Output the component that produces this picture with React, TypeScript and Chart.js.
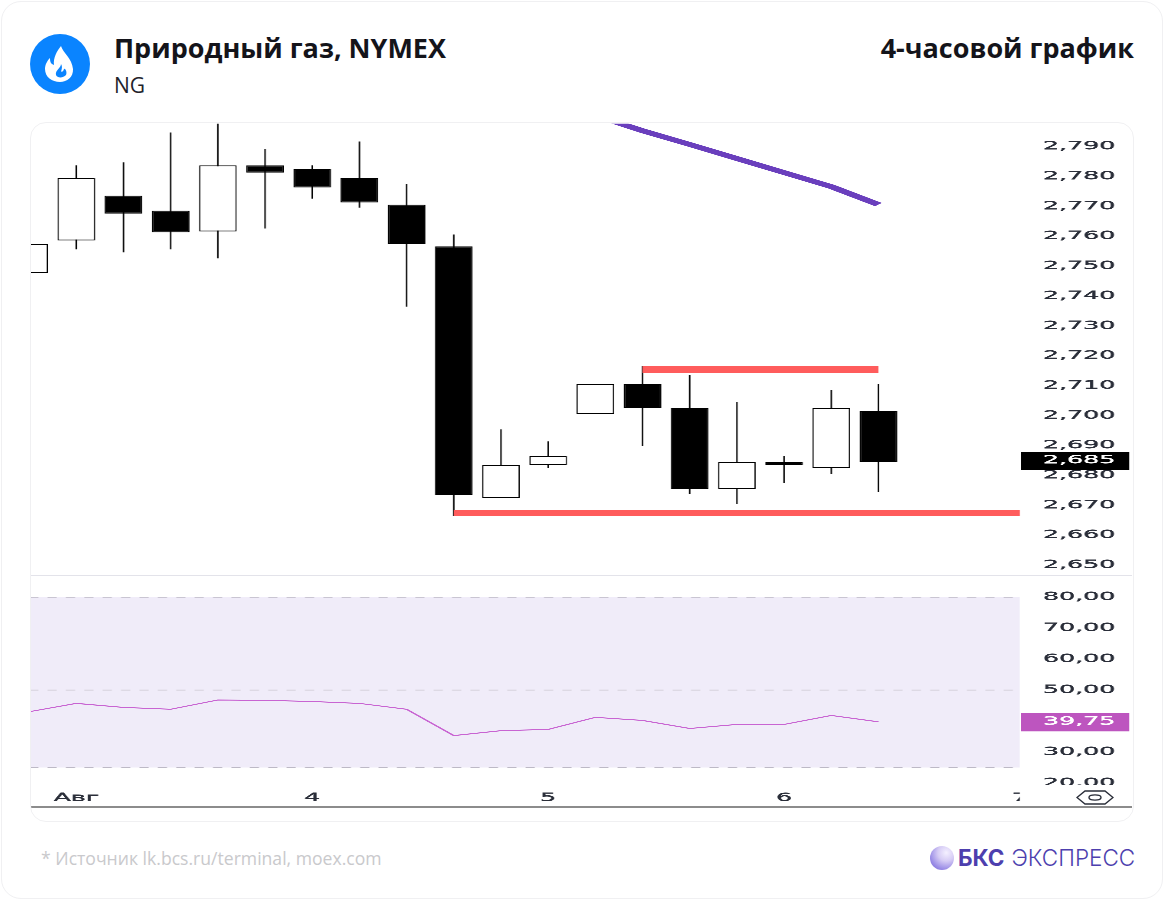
import React, { useEffect, useRef } from "react";
import { Chart, registerables } from "chart.js";

Chart.register(...registerables);

// ---- data ----
const candleIndex = [0, 1, 2, 3, 4, 5, 6, 7, 8, 9, 10, 11, 12, 13, 14, 15, 16, 17, 18];
const opens = [2.7476, 2.7586, 2.7736, 2.7686, 2.7616, 2.7837, 2.7826, 2.7796, 2.7706, 2.7566, 2.6724, 2.6834, 2.7005, 2.7105, 2.7025, 2.6754, 2.6844, 2.6824, 2.7015];
const closes = [2.7573, 2.7796, 2.7676, 2.7613, 2.7837, 2.7813, 2.7763, 2.7713, 2.7573, 2.6734, 2.6834, 2.6864, 2.7105, 2.7025, 2.6754, 2.6844, 2.6834, 2.7025, 2.6844];
const highs = [2.7573, 2.7837, 2.7847, 2.7947, 2.799, 2.7893, 2.7837, 2.7917, 2.7776, 2.7606, 2.6954, 2.6914, 2.7105, 2.7165, 2.7135, 2.7045, 2.6864, 2.7085, 2.7105];
const lows = [2.7476, 2.7556, 2.7546, 2.7556, 2.7526, 2.7626, 2.7726, 2.7696, 2.7365, 2.6664, 2.6724, 2.6824, 2.7005, 2.6898, 2.6737, 2.6704, 2.6774, 2.6804, 2.6744];
const rsiValues = [43.0, 45.7, 44.4, 43.8, 46.8, 46.7, 46.3, 45.7, 43.8, 35.3, 36.9, 37.3, 41.2, 40.2, 37.6, 38.9, 38.9, 41.8, 39.75];

const maIndex = [12, 13, 14, 15, 16, 17, 18];
const maValues = [2.8004, 2.7953, 2.7907, 2.786, 2.7813, 2.7766, 2.7706];

const resistanceIndex = [13, 18];
const resistanceValue = 2.7155;
const supportIndex = [9, 21];
const supportValue = 2.6674;

const rsiBandIndex = [0, 21];
const rsiBandUpper = 80;
const rsiBandMiddle = 50;
const rsiBandLower = 25;

const priceTicks = [2.65, 2.66, 2.67, 2.68, 2.69, 2.7, 2.71, 2.72, 2.73, 2.74, 2.75, 2.76, 2.77, 2.78, 2.79];
const lastPrice = 2.685;
const rsiTicks = [20, 30, 50, 60, 70, 80];
const lastRsi = 39.75;
const dayTickIndex = [1, 6, 11, 16, 21];
const dayTickLabels = ["Авг", "4", "5", "6", "7"];

// ---- layout ----
const CANVAS_W = 479;
const TOP_SHIFT = 16;
const CANVAS_H = 683 + TOP_SHIFT;
const STRETCH = 1101 / CANVAS_W;
const AXIS_W = 112 / STRETCH;
const TICK_COLOR = "#2a2e39";
const FONT = { family: "'DejaVu Sans'", size: 11 };

const fmt = (v: number, d: number) => v.toFixed(d).replace(".", ",");

const clipPlugin = {
  id: "paneClip",
  afterDatasetsDraw(chart: any) {
    const { ctx, chartArea } = chart;
    ctx.save();
    ctx.fillStyle = "#fff";
    ctx.fillRect(chartArea.right, chartArea.bottom - 2, CANVAS_W - chartArea.right, CANVAS_H - chartArea.bottom + 2);
    ctx.restore();
  },
  afterDraw(chart: any) {
    const { ctx, chartArea } = chart;
    ctx.save();
    ctx.fillStyle = "#fff";
    ctx.fillRect(chartArea.right, chartArea.bottom, CANVAS_W - chartArea.right, CANVAS_H - chartArea.bottom);
    ctx.restore();
  },
};

const priceScaleTicks = (last: number, color: string, digits: number) => ({
  autoSkip: false,
  crossAlign: "near" as const,
  padding: 10,
  font: FONT,
  color: (c: any) => (c.tick && c.tick.value === last ? "#fff" : TICK_COLOR),
  textStrokeColor: (c: any) => (c.tick && c.tick.value === last ? "#fff" : TICK_COLOR),
  textStrokeWidth: 0.3,
  showLabelBackdrop: (c: any) => !!c.tick && c.tick.value === last,
  backdropColor: color,
  backdropPadding: { left: 9.6, right: 6, top: 2, bottom: 3 },
  callback: (v: any) => fmt(Number(v), digits),
});

function App() {
  const ref = useRef<HTMLCanvasElement | null>(null);

  useEffect(() => {
    if (!ref.current) return;
    const black = "#000000";
    const chart = new Chart(ref.current, {
      type: "bar",
      data: {
        datasets: [
          {
            type: "line",
            label: "band-top",
            yAxisID: "yRsi",
            data: rsiBandIndex.map((x) => ({ x, y: rsiBandUpper })),
            borderColor: "#c9c5d2",
            borderWidth: 1,
            borderDash: [4, 4],
            pointRadius: 0,
            backgroundColor: "#f0ecf9",
            fill: "+1",
            order: 10,
          },
          {
            type: "line",
            label: "band-bottom",
            yAxisID: "yRsi",
            data: rsiBandIndex.map((x) => ({ x, y: rsiBandLower })),
            borderColor: "#bdb9c6",
            borderWidth: 1,
            borderDash: [4, 4],
            pointRadius: 0,
            fill: false,
            order: 9,
          },
          {
            type: "line",
            label: "band-mid",
            yAxisID: "yRsi",
            data: rsiBandIndex.map((x) => ({ x, y: rsiBandMiddle })),
            borderColor: "#d6d2dc",
            borderWidth: 1,
            borderDash: [4, 4],
            pointRadius: 0,
            fill: false,
            order: 8,
          },
          {
            type: "line",
            label: "RSI",
            yAxisID: "yRsi",
            data: candleIndex.map((x, i) => ({ x, y: rsiValues[i] })),
            borderColor: "#c864d2",
            borderWidth: 1,
            pointRadius: 0,
            tension: 0,
            fill: false,
            order: 7,
          },
          {
            type: "bar",
            label: "wick",
            yAxisID: "y",
            grouped: false,
            barThickness: 0.65,
            data: candleIndex.map((x, i) => ({ x, y: [lows[i], highs[i]] })),
            backgroundColor: black,
            borderWidth: 0,
            inflateAmount: 0,
            order: 6,
          },
          {
            type: "bar",
            label: "body",
            yAxisID: "y",
            grouped: false,
            barThickness: 16.4,
            data: candleIndex.map((x, i) => ({ x, y: [opens[i], closes[i]] })),
            backgroundColor: candleIndex.map((i) => (closes[i] > opens[i] ? "#ffffff" : black)),
            borderColor: black,
            borderWidth: { left: 0.6, right: 0.6, top: 1, bottom: 1 },
            borderSkipped: false,
            inflateAmount: 0,
            order: 5,
          },
          {
            type: "line",
            label: "MA",
            yAxisID: "y",
            data: maIndex.map((x, i) => ({ x, y: maValues[i] })),
            borderColor: "#6a3fbd",
            borderWidth: 4.5,
            pointRadius: 0,
            fill: false,
            order: 4,
          },
          {
            type: "line",
            label: "resistance",
            yAxisID: "y",
            data: resistanceIndex.map((x) => ({ x, y: resistanceValue })),
            borderColor: "#ff5c5c",
            borderWidth: 7,
            pointRadius: 0,
            fill: false,
            order: 3,
          },
          {
            type: "line",
            label: "support",
            yAxisID: "y",
            data: supportIndex.map((x) => ({ x, y: supportValue })),
            borderColor: "#ff5c5c",
            borderWidth: 6,
            pointRadius: 0,
            fill: false,
            order: 2,
          },
        ] as any,
      },
      plugins: [clipPlugin],
      options: {
        animation: false,
        responsive: false,
        devicePixelRatio: 3,
        events: [],
        layout: { autoPadding: false, padding: 0 },
        plugins: { legend: { display: false }, tooltip: { enabled: false }, title: { display: false } },
        scales: {
          x: {
            type: "linear",
            offset: false,
            min: 0.04,
            max: 21,
            z: 1,
            grid: { display: false, drawTicks: false },
            border: { display: false },
            afterBuildTicks: (s: any) => {
              s.ticks = dayTickIndex.map((value) => ({ value }));
            },
            afterFit: (s: any) => {
              s.height = 19;
            },
            ticks: {
              autoSkip: false,
              maxRotation: 0,
              padding: 4.5,
              font: FONT,
              color: TICK_COLOR,
              textStrokeColor: TICK_COLOR,
              textStrokeWidth: 0.3,
              callback: (v: any) => dayTickLabels[dayTickIndex.indexOf(Number(v))] ?? "",
            },
          },
          y: {
            type: "linear",
            position: "right",
            stack: "panes",
            stackWeight: 452,
            min: 2.64666,
            max: 2.79768,
            grid: { display: false, drawTicks: false },
            border: { display: false },
            afterBuildTicks: (s: any) => {
              s.ticks = [...priceTicks, lastPrice].map((value) => ({ value }));
            },
            afterFit: (s: any) => {
              s.width = AXIS_W;
            },
            ticks: priceScaleTicks(lastPrice, "#000000", 3),
          },
          yRsi: {
            type: "linear",
            axis: "y",
            position: "right",
            stack: "panes",
            stackWeight: 212,
            min: 18.7,
            max: 87.1,
            grid: { display: false, drawTicks: false },
            border: { display: false },
            afterBuildTicks: (s: any) => {
              s.ticks = [...rsiTicks, lastRsi].map((value) => ({ value }));
            },
            afterFit: (s: any) => {
              s.width = AXIS_W;
            },
            ticks: priceScaleTicks(lastRsi, "#bd55bf", 2),
          },
        },
      } as any,
    });
    return () => chart.destroy();
  }, []);

  const abs = (o: React.CSSProperties): React.CSSProperties => ({ position: "absolute", ...o });
  const sans = "'Open Sans', sans-serif";

  return (
    <div style={abs({ left: 0, top: 0, width: 1164, height: 900, background: "#fff", overflow: "hidden", fontFamily: sans })}>
      <div style={abs({ left: 1, top: 1, width: 1160, height: 896, border: "1px solid #f0f0f2", borderRadius: 20 })} />
      <svg style={abs({ left: 30, top: 34 })} width={60} height={60} viewBox="0 0 60 60">
        <circle cx={30} cy={30} r={30} fill="#0a84ff" />
        <path
          d="M31 12 C33 19 42 24 43 35 C43.5 43 37 48 30 48 C22 48 15 43 15 35 C15 30 18 26 20 24 C20 28 21 30 24 31 C23 24 27 17 31 12 Z M31 30 C31 34 25 36 26 41 C27 44 33 44.5 36 41 C37.5 38 35 34 34 35 C33.5 37 32.5 38 31 37.5 C32 35 32.5 32 31 30 Z"
          fill="#fff"
          fillRule="evenodd"
        />
      </svg>
      <div style={abs({ left: 114, top: 30, fontSize: 27, fontWeight: 700, color: "#14141a", lineHeight: "36px", whiteSpace: "nowrap" })}>
        Природный газ, NYMEX
      </div>
      <div style={abs({ left: 114, top: 71, fontSize: 21, color: "#22222a", lineHeight: "28px" })}>NG</div>
      <div style={abs({ right: 30, top: 30, fontSize: 27, fontWeight: 700, color: "#14141a", lineHeight: "36px", whiteSpace: "nowrap" })}>
        4-часовой график
      </div>

      <div style={abs({ left: 31, top: 123, width: 1101, height: 683, overflow: "hidden" })}>
        <canvas
          ref={ref}
          width={CANVAS_W}
          height={CANVAS_H}
          style={{ position: "absolute", left: 0, top: -TOP_SHIFT, transform: `scaleX(${STRETCH})`, transformOrigin: "0 0", display: "block" }}
        />
      </div>
      <div style={abs({ left: 31, top: 575, width: 1101, height: 1, background: "#e3e3ea" })} />
      <div style={abs({ left: 31, top: 806, width: 1101, height: 2, background: "#8c8c8c" })} />
      <div style={abs({ left: 30, top: 122, width: 1102, height: 698, border: "1px solid #f0f0f2", borderRadius: 16 })} />
      <svg style={abs({ left: 1076, top: 790 })} width={38} height={15} viewBox="0 0 38 15">
        <path d="M1 7.5 L9 1 H29 L37 7.5 L29 14 H9 Z" fill="none" stroke="#2a2e39" strokeWidth={1.4} />
        <ellipse cx={19} cy={7.5} rx={6} ry={2.6} fill="none" stroke="#2a2e39" strokeWidth={1.4} />
      </svg>

      <div style={abs({ left: 41, top: 846, fontSize: 17.6, color: "#c9c9cc", lineHeight: "24px", whiteSpace: "nowrap" })}>
        * Источник lk.bcs.ru/terminal, moex.com
      </div>
      <div
        style={abs({
          left: 930,
          top: 846,
          width: 24,
          height: 24,
          borderRadius: 12,
          background: "radial-gradient(circle at 68% 28%, #f4f0ff 0%, #d6ccf5 35%, #9a8ce6 70%, #6f5cd0 100%)",
        })}
      />
      <div style={abs({ left: 958, top: 843, fontFamily: "Inter, sans-serif", fontSize: 22.5, lineHeight: "30px", color: "#4d3fae", whiteSpace: "nowrap" })}>
        <span style={{ fontWeight: 700 }}>БКС</span>
        <span style={{ fontWeight: 300, marginLeft: 7 }}>ЭКСПРЕСС</span>
      </div>
    </div>
  );
}

export default App;
